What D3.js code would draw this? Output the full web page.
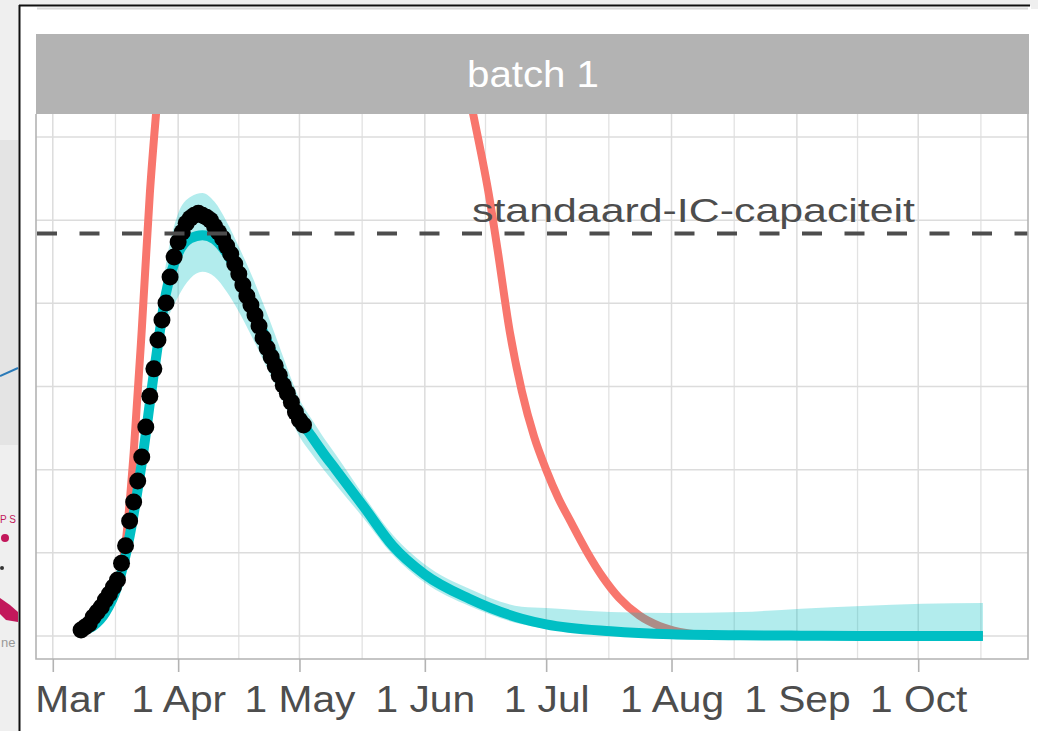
<!DOCTYPE html>
<html>
<head>
<meta charset="UTF-8">
<script src="https://d3js.org/d3.v7.min.js"></script>
<title>batch 1</title>
<style>
  body { margin: 0; background: #efefef; }
  svg { display: block; font-family: "Liberation Sans", Arial, Helvetica, sans-serif; }
</style>
</head>
<body>
<script>
// observed IC occupancy, one point per day from 8 March
var obsStart = "2020-03-08";
var obsValues = [18, 27, 36, 57, 72, 87, 108, 126, 147, 168,
  219, 271, 346, 403, 466, 538, 628, 721, 803, 890,
  950, 1001, 1079, 1139, 1184, 1214, 1241, 1256, 1265, 1271,
  1265, 1259, 1250, 1232, 1214, 1196, 1172, 1148, 1118, 1088,
  1055, 1022, 995, 965, 932, 896, 866, 839, 812, 784,
  754, 730, 703, 673, 649, 634];

// fitted model (teal) with its uncertainty band
var modelDates = ["2020-03-08", "2020-03-11", "2020-03-14", "2020-03-17", "2020-03-20", "2020-03-23",
  "2020-03-26", "2020-03-29", "2020-04-01", "2020-04-04", "2020-04-07", "2020-04-10", "2020-04-13",
  "2020-04-16", "2020-04-19", "2020-04-22", "2020-04-25", "2020-04-28", "2020-05-01", "2020-05-04",
  "2020-05-07", "2020-05-10", "2020-05-17", "2020-05-24", "2020-06-01", "2020-06-12", "2020-06-25",
  "2020-07-01", "2020-07-17", "2020-08-01", "2020-08-18", "2020-09-02", "2020-09-17", "2020-10-02",
  "2020-10-17"];
var modelMid = [15, 30, 70, 150, 300, 520, 790, 1030, 1150, 1195, 1205, 1192, 1150, 1085, 1005, 915,
  830, 740, 655, 600, 548, 500, 387, 272, 185, 112, 52, 35, 14, 5, 2, 1, 0, 0, 0];
var modelUpper = [18, 45, 80, 170, 330, 570, 850, 1120, 1270, 1320, 1332, 1305, 1245, 1170, 1090, 1000,
  905, 805, 712, 652, 596, 545, 420, 305, 215, 142, 88, 84, 72, 69, 72, 82, 90, 97, 99];
var modelLower = [12, 25, 60, 130, 270, 470, 720, 930, 1020, 1075, 1095, 1080, 1035, 975, 905, 830,
  755, 675, 600, 548, 500, 455, 352, 245, 160, 90, 35, 22, 7, 2, 0, 0, 0, 0, 0];

// scenario without measures (red), runs far above the shown range
var scenarioDates = ["2020-03-08", "2020-03-11", "2020-03-14", "2020-03-17", "2020-03-19", "2020-03-21",
  "2020-03-23", "2020-03-25", "2020-03-27", "2020-03-30", "2020-04-05", "2020-04-15", "2020-05-01",
  "2020-05-16", "2020-05-26", "2020-05-31", "2020-06-05", "2020-06-09", "2020-06-13", "2020-06-17",
  "2020-06-19", "2020-06-22", "2020-06-25", "2020-06-28", "2020-07-01", "2020-07-04", "2020-07-07",
  "2020-07-11", "2020-07-15", "2020-07-19", "2020-07-24", "2020-07-29", "2020-08-03", "2020-08-08",
  "2020-08-18", "2020-10-17"];
var scenarioValues = [20, 35, 70, 150, 280, 550, 920, 1330, 1640, 2100, 2900, 3700, 4000,
  3300, 2600, 2370, 2080, 1800, 1566, 1315, 1160, 915, 735, 600, 500, 415, 345,
  255, 177, 115, 62, 30, 12, 4, 0, 0];

var capacity = 1210;
var capacityLabel = "standaard-IC-capaciteit";
var stripLabel = "batch 1";
var yBreaks = [0, 250, 500, 750, 1000, 1250, 1500];

var W = 1038, H = 731;
var panel = { left: 36, right: 1028, top: 114, bottom: 659 };
var parse = d3.utcParse("%Y-%m-%d");

var obs = obsValues.map(function (v, i) {
  return { date: d3.utcDay.offset(parse(obsStart), i), value: v };
});
var model = modelDates.map(function (d, i) {
  return { date: parse(d), mid: modelMid[i], hi: modelUpper[i], lo: modelLower[i] };
});
var scenario = scenarioDates.map(function (d, i) {
  return { date: parse(d), value: scenarioValues[i] };
});

var t0 = d3.min(model, function (d) { return d.date; });
var t1 = d3.max(model, function (d) { return d.date; });
var pad = (t1 - t0) * 0.05;

var x = d3.scaleUtc()
  .domain([new Date(+t0 - pad), new Date(+t1 + pad)])
  .range([panel.left, panel.right]);

var y = d3.scaleLinear()
  .domain([0, 1500])
  .range([636, 137]);

var svg = d3.select("body").append("svg")
  .attr("width", W)
  .attr("height", H);

// screenshot surroundings
svg.append("rect").attr("width", W).attr("height", H).attr("fill", "#efefef");
svg.append("rect").attr("x", 0).attr("y", 140).attr("width", 18).attr("height", 305).attr("fill", "#e4e4e4");
svg.append("path").attr("d", "M0,376 L18,368").attr("stroke", "#2a7ab8").attr("stroke-width", 2).attr("fill", "none");
svg.append("text").attr("x", 0).attr("y", 523).attr("font-size", 10).attr("fill", "#c2185b").text("P S");
svg.append("circle").attr("cx", 5).attr("cy", 538).attr("r", 4).attr("fill", "#c2185b");
svg.append("circle").attr("cx", 2).attr("cy", 568).attr("r", 2).attr("fill", "#333");
svg.append("path").attr("d", "M0,598 L10,605 L18,612 L18,622 L6,620 L0,614 Z").attr("fill", "#c2185b");
svg.append("text").attr("x", 1).attr("y", 647).attr("font-size", 13).attr("fill", "#999").text("ne");
svg.append("rect").attr("x", 20).attr("y", 6).attr("width", W - 20).attr("height", H - 6).attr("fill", "#ffffff");
svg.append("rect").attr("x", 1031).attr("y", 0).attr("width", 7).attr("height", 9).attr("fill", "#efefef");
svg.append("line").attr("x1", 19).attr("x2", 1030).attr("y1", 5.5).attr("y2", 5.5)
  .attr("stroke", "#111").attr("stroke-width", 2);
svg.append("line").attr("x1", 19.5).attr("x2", 19.5).attr("y1", 5).attr("y2", H)
  .attr("stroke", "#111").attr("stroke-width", 2);
svg.append("line").attr("x1", 37).attr("x2", 1028).attr("y1", 8.5).attr("y2", 8.5)
  .attr("stroke", "#dadada").attr("stroke-width", 2);

var defs = svg.append("defs");
defs.append("clipPath").attr("id", "frame").append("rect")
  .attr("x", 25).attr("y", 6.5).attr("width", W - 25).attr("height", H - 6.5);
defs.append("clipPath").attr("id", "panel").append("rect")
  .attr("x", panel.left).attr("y", panel.top)
  .attr("width", panel.right - panel.left).attr("height", panel.bottom - panel.top);

var chart = svg.append("g").attr("clip-path", "url(#frame)");

// strip
chart.append("rect")
  .attr("x", panel.left).attr("y", 34)
  .attr("width", panel.right - panel.left + 1).attr("height", panel.top - 34)
  .attr("fill", "#b3b3b3");
chart.append("text")
  .attr("x", (panel.left + panel.right) / 2 + 1)
  .attr("y", 87)
  .attr("text-anchor", "middle")
  .attr("font-size", 37)
  .attr("fill", "#ffffff")
  .attr("textLength", 132)
  .attr("lengthAdjust", "spacingAndGlyphs")
  .text(stripLabel);

// grid
var majorX = x.ticks(d3.utcMonth.every(1));
var months = d3.utcMonth.range(d3.utcMonth.offset(majorX[0], -1), d3.utcMonth.offset(majorX[majorX.length - 1], 2));
var minorX = [];
for (var i = 0; i < months.length - 1; i++) {
  var mid = new Date((+months[i] + +months[i + 1]) / 2);
  if (mid >= x.domain()[0] && mid <= x.domain()[1]) minorX.push(mid);
}

var grid = chart.append("g");
grid.selectAll(".vminor").data(minorX).enter().append("line")
  .attr("x1", function (d) { return x(d); }).attr("x2", function (d) { return x(d); })
  .attr("y1", panel.top).attr("y2", panel.bottom)
  .attr("stroke", "#e2e2e2").attr("stroke-width", 1.3);
grid.selectAll(".vmajor").data(majorX).enter().append("line")
  .attr("x1", function (d) { return x(d); }).attr("x2", function (d) { return x(d); })
  .attr("y1", panel.top).attr("y2", panel.bottom)
  .attr("stroke", "#dcdcdc").attr("stroke-width", 1.5);
grid.selectAll(".hline").data(yBreaks).enter().append("line")
  .attr("x1", panel.left).attr("x2", panel.right)
  .attr("y1", function (d) { return y(d); }).attr("y2", function (d) { return y(d); })
  .attr("stroke", "#dcdcdc").attr("stroke-width", 1.5);

var inner = chart.append("g").attr("clip-path", "url(#panel)");

var scenarioLine = d3.line()
  .x(function (d) { return x(d.date); })
  .y(function (d) { return y(d.value); })
  .curve(d3.curveMonotoneX);

inner.append("path")
  .attr("d", scenarioLine(scenario))
  .attr("fill", "none")
  .attr("stroke", "#F8766D")
  .attr("stroke-width", 8);

var band = d3.area()
  .x(function (d) { return x(d.date); })
  .y0(function (d) { return y(d.lo); })
  .y1(function (d) { return y(d.hi); })
  .curve(d3.curveMonotoneX);

inner.append("path")
  .attr("d", band(model))
  .attr("fill", "#00BFC4")
  .attr("fill-opacity", 0.3);

var modelLine = d3.line()
  .x(function (d) { return x(d.date); })
  .y(function (d) { return y(d.mid); })
  .curve(d3.curveMonotoneX);

inner.append("path")
  .attr("d", modelLine(model))
  .attr("fill", "none")
  .attr("stroke", "#00BFC4")
  .attr("stroke-width", 10);

inner.selectAll(".obs").data(obs).enter().append("circle")
  .attr("cx", function (d) { return x(d.date); })
  .attr("cy", function (d) { return y(d.value); })
  .attr("r", 8.5)
  .attr("fill", "#000");

// capacity line and label
inner.append("line")
  .attr("x1", panel.left + 1).attr("x2", panel.right)
  .attr("y1", y(capacity)).attr("y2", y(capacity))
  .attr("stroke", "#4d4d4d")
  .attr("stroke-width", 4)
  .attr("stroke-dasharray", "20,22.5");

inner.append("text")
  .attr("x", 472)
  .attr("y", 222)
  .attr("font-size", 33)
  .attr("fill", "#4d4d4d")
  .attr("textLength", 443)
  .attr("lengthAdjust", "spacingAndGlyphs")
  .text(capacityLabel);

// panel border
chart.append("path")
  .attr("d", "M" + panel.left + "," + panel.top + "V" + panel.bottom + "H" + panel.right + "V" + panel.top)
  .attr("fill", "none")
  .attr("stroke", "#b3b3b3")
  .attr("stroke-width", 1.6);

// x axis
var xAxis = d3.axisBottom(x)
  .ticks(d3.utcMonth.every(1))
  .tickFormat(d3.utcFormat("%-d %b"))
  .tickSize(13)
  .tickSizeOuter(0);

var ax = chart.append("g")
  .attr("transform", "translate(0," + panel.bottom + ")")
  .call(xAxis);
ax.select(".domain").remove();
ax.selectAll(".tick line").attr("stroke", "#b3b3b3").attr("stroke-width", 1.6);
ax.selectAll(".tick text")
  .attr("y", 53)
  .attr("dy", null)
  .attr("font-size", 37)
  .attr("font-family", "'Liberation Sans', Arial, Helvetica, sans-serif")
  .attr("fill", "#4d4d4d")
  .attr("transform", "scale(1.1,1)");
</script>
</body>
</html>
